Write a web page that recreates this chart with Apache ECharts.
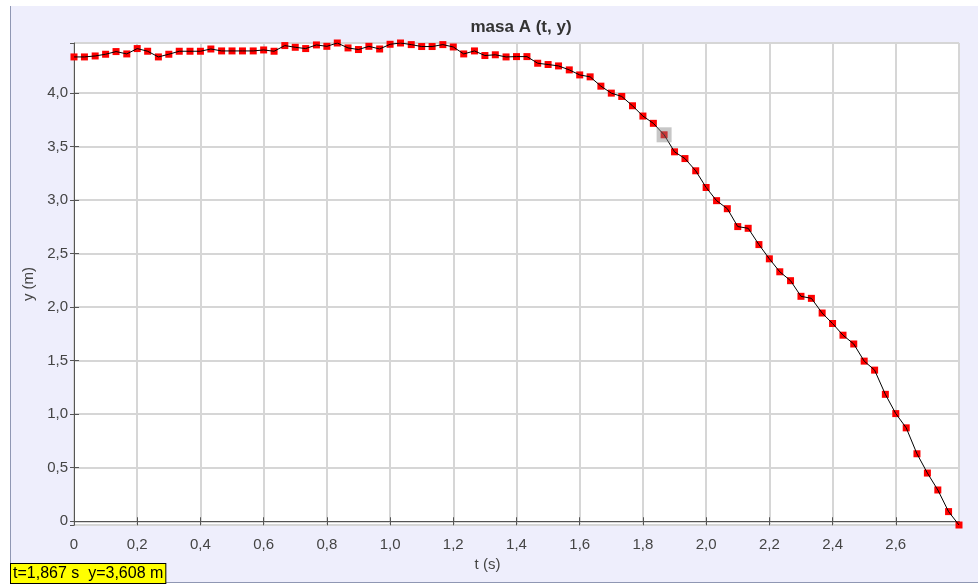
<!DOCTYPE html>
<html>
<head>
<meta charset="utf-8">
<script src="https://cdn.jsdelivr.net/npm/echarts@6/dist/echarts.min.js"></script>
<style>
  html, body { margin: 0; padding: 0; background: #ffffff; }
  #panel {
    position: absolute; left: 10px; top: 6px; width: 967px; height: 576px;
    background: #eeeefc; border-left: 1px solid #8f97b3; border-bottom: 1px solid #8f97b3;
  }
  #chart { position: absolute; left: 0; top: 0; width: 978px; height: 585px; }
</style>
</head>
<body>
<div id="panel"></div>
<div id="chart"></div>
<script>
// sampled at 30 frames per second
const times = [
  0.000, 0.033, 0.067, 0.100, 0.133, 0.167, 0.200, 0.233, 0.267, 0.300,
  0.333, 0.367, 0.400, 0.433, 0.467, 0.500, 0.533, 0.567, 0.600, 0.633,
  0.667, 0.700, 0.733, 0.767, 0.800, 0.833, 0.867, 0.900, 0.933, 0.967,
  1.000, 1.033, 1.067, 1.100, 1.133, 1.167, 1.200, 1.233, 1.267, 1.300,
  1.333, 1.367, 1.400, 1.433, 1.467, 1.500, 1.533, 1.567, 1.600, 1.633,
  1.667, 1.700, 1.733, 1.767, 1.800, 1.833, 1.867, 1.900, 1.933, 1.967,
  2.000, 2.033, 2.067, 2.100, 2.133, 2.167, 2.200, 2.233, 2.267, 2.300,
  2.333, 2.367, 2.400, 2.433, 2.467, 2.500, 2.533, 2.567, 2.600, 2.633,
  2.667, 2.700, 2.733, 2.767, 2.800
];

const yValues = [
  4.335, 4.335, 4.344, 4.360, 4.385, 4.363, 4.413, 4.388, 4.335, 4.360,
  4.388, 4.388, 4.388, 4.409, 4.391, 4.391, 4.391, 4.391, 4.400, 4.388,
  4.441, 4.425, 4.413, 4.447, 4.434, 4.465, 4.419, 4.404, 4.434, 4.409,
  4.453, 4.465, 4.450, 4.432, 4.432, 4.450, 4.428, 4.363, 4.391, 4.348,
  4.355, 4.335, 4.338, 4.338, 4.276, 4.264, 4.251, 4.214, 4.167, 4.149,
  4.062, 3.997, 3.966, 3.879, 3.783, 3.715, 3.608, 3.449, 3.386, 3.272,
  3.116, 2.993, 2.918, 2.751, 2.735, 2.583, 2.450, 2.329, 2.246, 2.100,
  2.081, 1.944, 1.846, 1.737, 1.655, 1.495, 1.411, 1.185, 1.005, 0.872,
  0.630, 0.450, 0.292, 0.090, -0.035
];

const selectedIndex = 56;

const points = times.map((t, i) => [t, yValues[i]]);
const selected = points[selectedIndex];

const xMin = 0;
const xMax = times[times.length - 1];
const yMin = Math.min(...yValues);
const yMax = Math.max(...yValues);

const comma = (v, d) => v.toFixed(d).replace('.', ',');
const tickLabel = (v) => (Math.abs(v) < 1e-9 ? '0' : comma(v, 1));

const labelFont = { color: '#444444', fontSize: 15, fontFamily: 'Liberation Sans, Arial, sans-serif' };

const chart = echarts.init(document.getElementById('chart'), null, { renderer: 'canvas' });

const option = {
  animation: false,
  backgroundColor: 'transparent',
  title: {
    text: 'masa A (t, y)',
    left: 516,
    top: 14,
    textAlign: 'center',
    textStyle: { color: '#333333', fontSize: 17, fontWeight: 'bold', fontFamily: 'Liberation Sans, Arial, sans-serif' },
  },
  grid: {
    left: 74,
    top: 43,
    right: 19,
    bottom: 60,
    show: true,
    backgroundColor: '#ffffff',
    borderColor: '#555555',
    borderWidth: 1,
  },
  xAxis: [
    {
      type: 'value',
      min: xMin,
      max: xMax,
      interval: 0.2,
      name: 't (s)',
      nameLocation: 'middle',
      nameGap: 31,
      nameTextStyle: { ...labelFont, padding: [0, 58, 0, 0] },
      axisLine: { lineStyle: { color: '#555555' } },
      axisTick: { inside: true, length: 4, lineStyle: { color: '#555555' } },
      axisLabel: { ...labelFont, margin: 12, showMaxLabel: false, formatter: tickLabel },
      splitLine: { lineStyle: { color: '#d6d6d6', width: 2 } },
    },
    {
      type: 'value',
      position: 'top',
      min: xMin,
      max: xMax,
      interval: 0.2,
      axisLine: { show: false },
      axisTick: { inside: true, length: 4, lineStyle: { color: '#555555' } },
      axisLabel: { show: false },
      splitLine: { show: false },
    },
  ],
  yAxis: [
    {
      type: 'value',
      min: yMin,
      max: yMax,
      splitNumber: 9,
      name: 'y (m)',
      nameLocation: 'middle',
      nameGap: 33,
      nameRotate: 90,
      nameTextStyle: labelFont,
      axisLine: { show: true, lineStyle: { color: '#555555' } },
      axisTick: { show: true, inside: true, length: 5, lineStyle: { color: '#555555' } },
      axisLabel: { ...labelFont, margin: 6, showMinLabel: false, showMaxLabel: false, formatter: tickLabel },
      splitLine: { lineStyle: { color: '#d6d6d6', width: 2 } },
    },
    {
      type: 'value',
      position: 'right',
      min: yMin,
      max: yMax,
      splitNumber: 9,
      axisLine: { show: false },
      axisTick: { show: true, inside: true, length: 4, lineStyle: { color: '#555555' } },
      axisLabel: { show: false },
      splitLine: { show: false },
    },
  ],
  series: [
    {
      // markers under the line, like the original
      type: 'scatter',
      data: points,
      symbol: 'rect',
      symbolSize: 7,
      clip: false,
      itemStyle: { color: '#ff0000', opacity: 1 },
      z: 2,
    },
    {
      type: 'line',
      data: points,
      showSymbol: false,
      symbol: 'none',
      lineStyle: { color: '#000000', width: 1 },
      z: 3,
    },
    {
      // current cursor position
      type: 'scatter',
      data: [selected],
      symbol: 'rect',
      symbolSize: 15,
      clip: false,
      itemStyle: { color: 'rgba(128,128,128,0.55)' },
      z: 4,
    },
  ],
  graphic: [
    {
      type: 'text',
      left: 10,
      top: 563,
      style: {
        text: 't=' + comma(selected[0], 3) + ' s  y=' + comma(selected[1], 3) + ' m',
        fill: '#000000',
        fontSize: 16,
        fontFamily: 'Liberation Sans, Arial, sans-serif',
        backgroundColor: '#ffff00',
        borderColor: '#000000',
        borderWidth: 1,
        padding: [2, 2, 1, 2],
      },
    },
  ],
};

chart.setOption(option);
</script>
</body>
</html>
